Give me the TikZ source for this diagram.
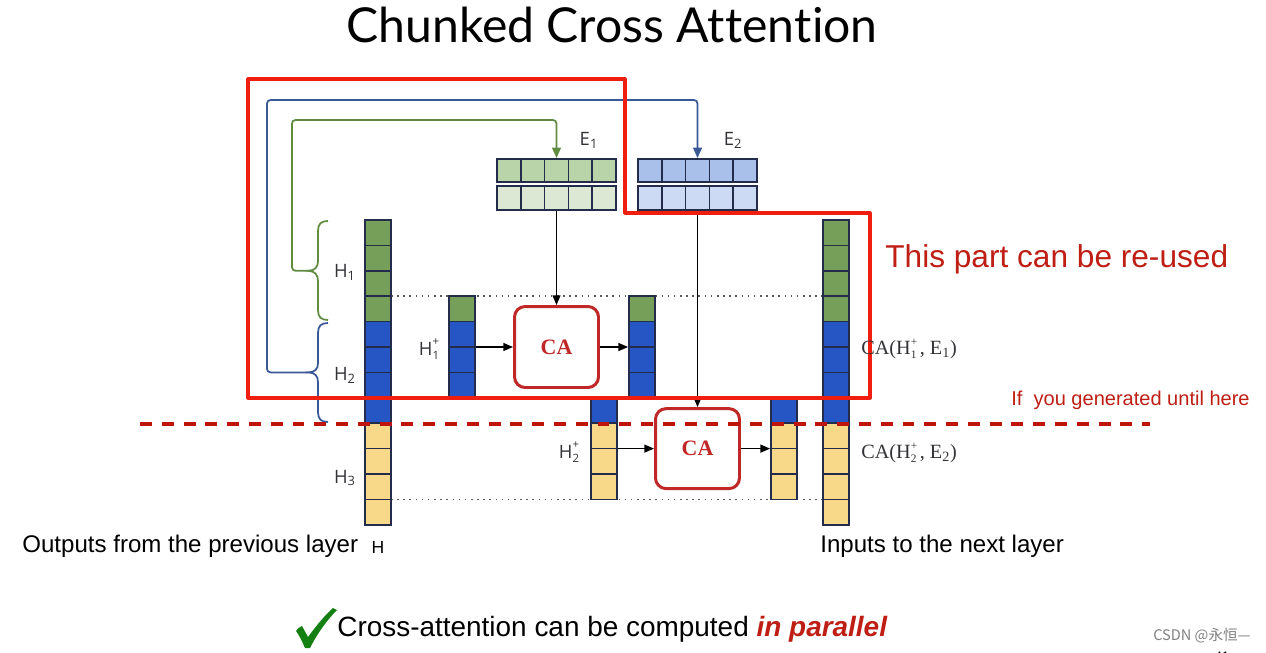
\documentclass[tikz,border=0pt]{standalone}
\usepackage{fontspec}
\setmainfont{Liberation Sans}
\newfontfamily\titlefont[Ligatures=NoCommon]{Lato}
\newfontfamily\lblfont{Open Sans}
\newfontfamily\serfont{Liberation Serif}
\newfontfamily\cjkfont{Noto Sans CJK SC}
\usetikzlibrary{arrows.meta,fit,calc}
\definecolor{gr}{RGB}{118,160,90}
\definecolor{bl}{RGB}{38,86,196}
\definecolor{ye}{RGB}{248,216,137}
\definecolor{edge}{RGB}{35,45,75}
\definecolor{eoa}{RGB}{185,212,168}
\definecolor{eob}{RGB}{220,232,211}
\definecolor{eta}{RGB}{168,192,234}
\definecolor{etb}{RGB}{204,218,243}
\definecolor{lineG}{RGB}{96,140,66}
\definecolor{lineB}{RGB}{58,88,150}
\definecolor{caRed}{RGB}{192,40,40}
\definecolor{dashRed}{RGB}{190,20,10}
\definecolor{outRed}{RGB}{240,30,15}
\definecolor{txtRed}{RGB}{190,30,20}
\definecolor{chk}{RGB}{20,128,20}
\definecolor{lbl}{RGB}{50,50,55}
\tikzset{
  cellst/.style={draw=edge, line width=0.9pt},
  colbox/.style={draw=edge, line width=1pt, inner sep=0pt},
  arr/.style={-{Triangle[length=5.5pt,width=4.5pt]}, line width=0.8pt},
  cabox/.style={draw=caRed, line width=1.7pt, rounded corners=6pt, minimum width=1.68cm, minimum height=1.62cm,
    text=caRed, font=\serfont\bfseries\fontsize{12.5}{14}\selectfont},
  hlbl/.style={text=lbl, font=\lblfont\fontsize{10.5}{12}\selectfont, inner sep=0pt},
  dotline/.style={gray!70!black, line width=0.9pt, dash pattern=on 0.9pt off 2.6pt},
  bracest/.style={line width=1pt},
  feed/.style={line width=1pt, rounded corners=2pt, -{Triangle[length=6pt,width=5pt]}},
}
\newcommand{\mkcol}[3]{%
  \foreach \cc [count=\ii from 0] in {#3} {\draw[cellst, fill=\cc] (#1, #2+\ii*25.4) rectangle ++(26,25.4);}}
\newcommand{\mkrow}[4]{%
  \foreach \ii in {0,...,4} {\draw[cellst, fill=#4] (#1+\ii*23.8, #2) rectangle ++(23.8,#3);}}
\newcommand{\pmsub}[1]{\raisebox{-2.3pt}{\fontsize{6.5}{6.5}\selectfont\shortstack[l]{+\\#1}}}
\begin{document}
\begin{tikzpicture}[x=0.02cm, y=-0.02cm]
\useasboundingbox (0,0) rectangle (1266,652);

% title
\node[font=\titlefont\fontsize{27.4}{32}\selectfont] (title) at (612,25) {Chunked Cross At\kern0pt t\kern0pt en\kern0pt t\kern0pt ion};

% dotted guide lines (behind)
\draw[dotline] (391,296.2) -- (823,296.2);
\draw[dotline] (391,499.4) -- (823,499.4);

% columns
\mkcol{365}{220}{gr,gr,gr,gr,bl,bl,bl,bl,ye,ye,ye,ye}
\node[colbox, fit={(365,220) (391,524.8)}] (H) {};
\mkcol{449}{296.2}{gr,bl,bl,bl}
\node[colbox, fit={(449,296.2) (475,397.8)}] (in1) {};
\mkcol{629}{296.2}{gr,bl,bl,bl}
\node[colbox, fit={(629,296.2) (655,397.8)}] (out1) {};
\mkcol{591}{397.8}{bl,ye,ye,ye}
\node[colbox, fit={(591,397.8) (617,499.4)}] (in2) {};
\mkcol{771}{397.8}{bl,ye,ye,ye}
\node[colbox, fit={(771,397.8) (797,499.4)}] (out2) {};
\mkcol{823}{220}{gr,gr,gr,gr,bl,bl,bl,bl,ye,ye,ye,ye}
\node[colbox, fit={(823,220) (849,524.8)}] (next) {};

% E blocks
\mkrow{497}{159}{23}{eoa}
\node[colbox, fit={(497,159) (616,182)}] (E1t) {};
\mkrow{497}{186}{24}{eob}
\node[colbox, fit={(497,186) (616,210)}] (E1b) {};
\mkrow{638}{159}{23}{eta}
\node[colbox, fit={(638,159) (757,182)}] (E2t) {};
\mkrow{638}{186}{24}{etb}
\node[colbox, fit={(638,186) (757,210)}] (E2b) {};

\node[hlbl] (E1lbl) at (589,140) {E\textsubscript{1}};
\node[hlbl] (E2lbl) at (733,140) {E\textsubscript{2}};

% CA boxes
\node[cabox, fill=white] (ca1) at (556.5,347) {CA};
\node[cabox, fill=white, minimum height=1.6cm] (ca2) at (697.5,448.6) {CA};

% arrows
\draw[arr] (E1b.south) -- (E1b.south |- ca1.north);
\draw[arr] (E2b.south) -- (E2b.south |- ca2.north);
\draw[arr] (in1.east) -- (ca1.west);
\draw[arr] (ca1.east) -- (out1.west);
\draw[arr] (in2.east) -- (ca2.west);
\draw[arr] (ca2.east) -- (out2.west);

% labels on columns
\node[hlbl] (h1) at (345,272) {H\textsubscript{1}};
\node[hlbl] (h2) at (345,375) {H\textsubscript{2}};
\node[hlbl] (h3) at (345,478) {H\textsubscript{3}};
\node[hlbl] (h1p) at (429,349) {H\pmsub{1}};
\node[hlbl] (h2p) at (569,452) {H\pmsub{2}};

% braces
\coordinate (brHa) at (308,270.8);
\coordinate (brHb) at (308,372.4);
\draw[lineG, bracest] (328,221) .. controls (321,221) and (318,224) .. (318,231)
  -- (318,261) .. controls (318,267) and (315,270.8) .. (brHa)
  .. controls (315,270.8) and (318,275) .. (318,281)
  -- (318,310) .. controls (318,317) and (321,320) .. (328,320);
\draw[lineB, bracest] (328,323) .. controls (321,323) and (318,326) .. (318,333)
  -- (318,363) .. controls (318,369) and (315,372.4) .. (brHb)
  .. controls (315,372.4) and (318,376) .. (318,382)
  -- (318,412) .. controls (318,419) and (321,422) .. (328,422);

% feedback connectors
\coordinate (gcorner) at (292,120);
\coordinate (bcorner) at (267,100);
\draw[lineG, feed] (brHa) -| (gcorner) -| (E1t.north);
\draw[lineB, feed] (brHb) -| (bcorner) -| (E2t.north);

% re-used region outline
\draw[outRed, line width=1.8pt, line join=round] (248,79) -- (625,79) -- (625,213) -- (870,213) -- (870,398) -- (248,398) -- cycle;

% generated-until line
\coordinate (dashL) at (140,424);
\coordinate (dashR) at (1150,424);
\draw[dashRed, line width=2.8pt, dash pattern=on 6.8pt off 5.6pt] (dashL) -- (dashR);

% right side texts
\node[anchor=west, text=txtRed, font=\fontsize{18}{22}\selectfont, inner sep=0pt] (reuse) at (885,259) {This part can be re-used};
\node[anchor=west, text=txtRed, font=\fontsize{11.4}{13}\selectfont, inner sep=0pt] (until) at (1011,400) {If\ \ you generated until here};
\node[anchor=west, text=lbl, font=\serfont\fontsize{11.5}{13}\selectfont, inner sep=0pt] (ca1o) at (861,349) {CA(H\pmsub{1}\hspace{1.5pt}, E\textsubscript{1})};
\node[anchor=west, text=lbl, font=\serfont\fontsize{11.5}{13}\selectfont, inner sep=0pt] (ca2o) at (861,453) {CA(H\pmsub{2}\hspace{1.5pt}, E\textsubscript{2})};

% bottom texts
\node[anchor=west, font=\fontsize{13.7}{16}\selectfont, inner sep=0pt] (outs) at (22,546) {Outputs from the previous layer};
\node[font=\fontsize{10}{12}\selectfont, inner sep=0pt] (hb) at (378,547) {H};
\node[anchor=west, font=\fontsize{13.7}{16}\selectfont, inner sep=0pt] (ins) at (820,546) {Inputs to the next layer};

\fill[chk] (296,631) .. controls (298,628) and (300,627) .. (302,626) -- (308,637)
  .. controls (316,626) and (325,615) .. (333,608) -- (337,610)
  .. controls (327,620) and (317,634) .. (310,648) -- (305,648)
  .. controls (302,641) and (299,635) .. cycle;
\node[anchor=west, font=\fontsize{15.9}{19}\selectfont, inner sep=0pt] (par) at (337,629) {Cross-attention can be computed \textcolor{txtRed}{\bfseries\itshape in parallel}};

\node[text=gray, font=\cjkfont\fontsize{8.3}{10}\selectfont, inner sep=0pt] (csdn) at (1202,636) {CSDN @永恒—};
\node[font=\fontsize{7}{8}\selectfont, inner sep=0pt] (pg) at (1222,656) {41};
\end{tikzpicture}
\end{document}
